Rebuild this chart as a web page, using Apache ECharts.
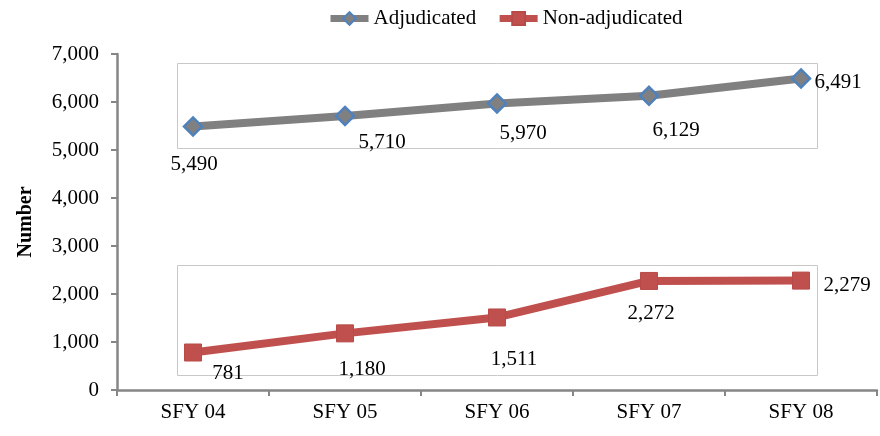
<!DOCTYPE html>
<html>
<head>
    <meta charset="utf-8">
    <title>Adjudicated vs Non-adjudicated</title>
    <script src="https://cdn.jsdelivr.net/npm/echarts@6/dist/echarts.min.js"></script>
    <style>
        html, body { margin: 0; padding: 0; background: #fff; }
        #main { width: 880px; height: 436px; }
    </style>
</head>
<body>
<div id="main"></div>
<script>
    // 数据
    var categories = ['SFY 04', 'SFY 05', 'SFY 06', 'SFY 07', 'SFY 08'];
    var adjudicated = [5490, 5710, 5970, 6129, 6491];
    var nonAdjudicated = [781, 1180, 1511, 2272, 2279];

    // 标签偏移 (像素)
    var adjOffsets = [[1, 38], [37, 27], [26, 30], [27, 35], [37, 4]];
    var nonOffsets = [[35, 21], [17, 36], [17, 42], [2, 33], [46, 5]];

    var FONT = '"Liberation Serif", "Times New Roman", serif';
    var FS = 21;

    function fmt(v) {
        return Number(v).toLocaleString('en-US');
    }

    function withLabels(values, offsets) {
        return values.map(function (v, i) {
            return {
                value: v,
                label: {offset: offsets[i]}
            };
        });
    }

    var chart = echarts.init(document.getElementById('main'));

    chart.setOption({
        animation: false,
        textStyle: {fontFamily: FONT},
        legend: {
            top: 3,
            left: 322,
            itemWidth: 38,
            itemHeight: 16,
            itemGap: 20,
            textStyle: {fontFamily: FONT, fontSize: FS, color: '#000'},
            data: [
                {name: 'Adjudicated', lineStyle: {width: 7}},
                {name: 'Non-adjudicated', lineStyle: {width: 7}}
            ]
        },
        grid: {left: 117, right: 3, top: 54, bottom: 46},
        xAxis: {
            type: 'category',
            data: categories,
            boundaryGap: true,
            axisLine: {lineStyle: {color: '#868686', width: 2.5}},
            axisTick: {show: true, length: 6, lineStyle: {color: '#868686', width: 2}},
            axisLabel: {fontFamily: FONT, fontSize: FS, color: '#000', margin: 12}
        },
        yAxis: {
            type: 'value',
            min: 0,
            max: 7000,
            interval: 1000,
            name: 'Number',
            nameLocation: 'middle',
            nameGap: 81,
            nameTextStyle: {fontFamily: FONT, fontSize: 20, fontWeight: 'bold', color: '#000'},
            axisLine: {show: true, lineStyle: {color: '#868686', width: 2.5}},
            axisTick: {show: true, length: 6, lineStyle: {color: '#868686', width: 2}},
            splitLine: {show: false},
            axisLabel: {
                fontFamily: FONT, fontSize: FS, color: '#000', margin: 18,
                formatter: fmt
            }
        },
        graphic: [
            {
                type: 'rect',
                shape: {x: 177.5, y: 63.5, width: 640, height: 85},
                style: {fill: 'none', stroke: '#c8c8c8', lineWidth: 1},
                z: 0
            },
            {
                type: 'rect',
                shape: {x: 177.5, y: 265.5, width: 640, height: 110},
                style: {fill: 'none', stroke: '#c8c8c8', lineWidth: 1},
                z: 0
            }
        ],
        series: [
            {
                name: 'Adjudicated',
                type: 'line',
                data: withLabels(adjudicated, adjOffsets),
                symbol: 'diamond',
                symbolSize: 18,
                lineStyle: {color: '#808080', width: 8},
                itemStyle: {color: '#808080', borderColor: '#4F81BD', borderWidth: 2.5},
                label: {
                    show: true,
                    position: 'inside',
                    fontFamily: FONT,
                    fontSize: FS,
                    color: '#000',
                    formatter: function (p) { return fmt(p.value); }
                }
            },
            {
                name: 'Non-adjudicated',
                type: 'line',
                data: withLabels(nonAdjudicated, nonOffsets),
                symbol: 'rect',
                symbolSize: 17,
                lineStyle: {color: '#C0504D', width: 8},
                itemStyle: {color: '#C0504D', borderColor: '#B84A47', borderWidth: 1},
                label: {
                    show: true,
                    position: 'inside',
                    fontFamily: FONT,
                    fontSize: FS,
                    color: '#000',
                    formatter: function (p) { return fmt(p.value); }
                }
            }
        ]
    });
</script>
</body>
</html>
